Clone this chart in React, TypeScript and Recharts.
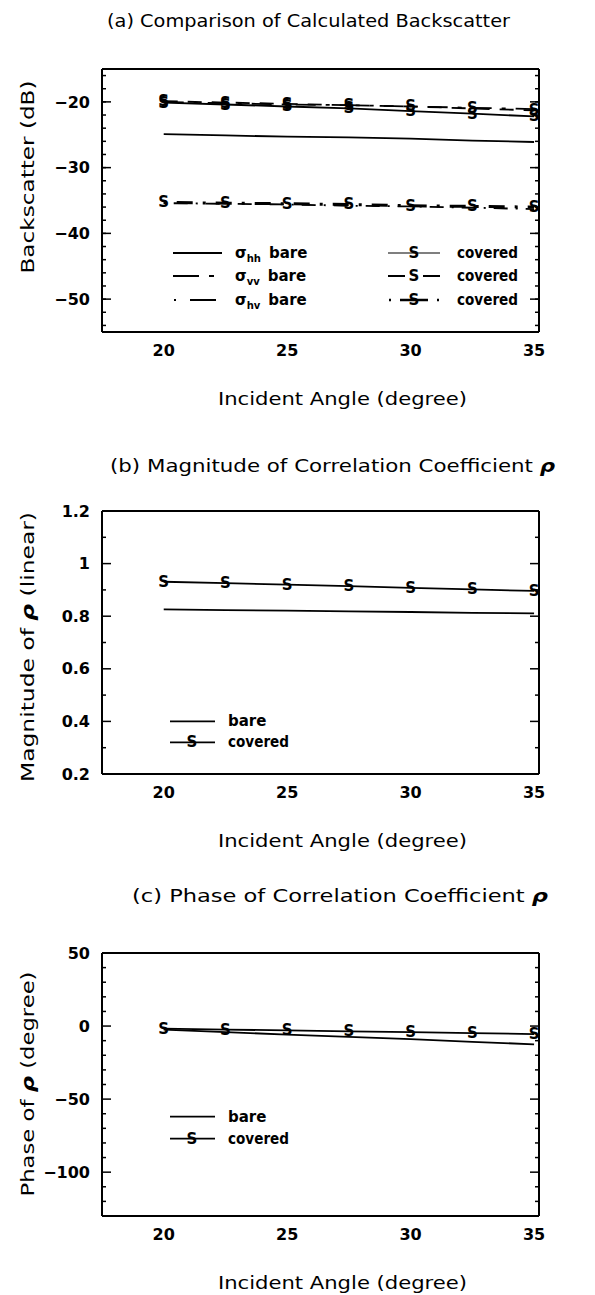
import React from 'react';
import { Line, LineChart, XAxis, YAxis } from 'recharts';

const angles = [20, 22.5, 25, 27.5, 30, 32.5, 35];

// (a) backscatter in dB
const hhBare = [-24.9, -25.1, -25.3, -25.4, -25.6, -25.9, -26.1];
const vvBare = [-20.0, -20.2, -20.4, -20.5, -20.7, -20.9, -21.1];
const hvBare = [-35.4, -35.5, -35.6, -35.8, -35.9, -36.1, -36.3];
const hhCovered = [-20.1, -20.4, -20.7, -21.0, -21.4, -21.8, -22.2];
const vvCovered = [-19.9, -20.1, -20.3, -20.5, -20.7, -21.0, -21.3];
const hvCovered = [-35.3, -35.4, -35.5, -35.6, -35.8, -35.9, -36.0];

// (b) magnitude of rho
const magBare = [0.826, 0.823, 0.821, 0.818, 0.816, 0.813, 0.811];
const magCovered = [0.931, 0.926, 0.92, 0.914, 0.908, 0.902, 0.896];

// (c) phase of rho, degree
const phaseBare = [-2.5, -4.2, -5.8, -7.4, -9.0, -10.8, -12.5];
const phaseCovered = [-1.8, -2.4, -3.0, -3.6, -4.2, -4.8, -5.5];

const xMajor = [20, 25, 30, 35];
const xMinor = [18, 19, 20, 21, 22, 23, 24, 25, 26, 27, 28, 29, 30, 31, 32, 33, 34, 35];
const aMajor = [-50, -40, -30, -20];
const aMinor = [-54, -52, -50, -48, -46, -44, -42, -40, -38, -36, -34, -32, -30, -28, -26, -24, -22, -20, -18, -16];
const bMajor = [0.2, 0.4, 0.6, 0.8, 1, 1.2];
const bMinor = [0.3, 0.5, 0.7, 0.9, 1.1];
const cMajor = [-100, -50, 0, 50];
const cMinor = [-120, -110, -90, -80, -70, -60, -40, -30, -20, -10, 10, 20, 30, 40];

const FONT = '"DejaVu Sans", sans-serif';
const W = 595;
const H = 442;
const TOP = 69;
const PLOT_H = 263;
const xDomain: [number, number] = [17.5, 35.2];

const S = (size: number) => (p: any) => {
  if (p.cx == null || p.cy == null) return <g key={`s-${p.index}`} />;
  return (
    <text
      key={`s-${p.dataKey}-${p.index}`}
      x={p.cx}
      y={p.cy}
      textAnchor="middle"
      dominantBaseline="central"
      fontSize={size}
      fontWeight="bold"
      fontFamily={FONT}
      fill="#000"
    >
      S
    </text>
  );
};

const noTick = () => <g />;

type Series = { key: string; values: number[]; dash?: string; width?: number; marker?: boolean };

const minus = (v: number) => String(v).replace('-', '\u2212');

type PanelProps = {
  series: Series[];
  yDomain: [number, number];
  yMajor: number[];
  yMinor: number[];
  title: React.ReactNode;
  titleX: number;
  titleY: number;
  titleLen: number;
  yLabel: React.ReactNode;
  yLabelY: number;
  yLabelLen: number;
  legend: React.ReactNode;
};

const tickStyle = { fill: '#000', fontSize: 16, fontWeight: 'bold', fontFamily: FONT };
const border = { stroke: '#000', strokeWidth: 2 };
const tl = { stroke: '#000', strokeWidth: 1.5 };

const Panel = (props: PanelProps) => {
  const { series, yDomain, yMajor, yMinor, title, titleX, titleY, titleLen, yLabel, yLabelY, yLabelLen, legend } = props;
  const data = angles.map((a, i) => {
    const row: any = { angle: a };
    series.forEach((s) => (row[s.key] = s.values[i]));
    return row;
  });
  return (
    <div style={{ position: 'relative', width: W, height: H }}>
      <LineChart width={W} height={H} data={data} margin={{ top: TOP, right: 56, left: 52, bottom: 80 }}>
        <XAxis xAxisId="x" dataKey="angle" type="number" domain={xDomain} ticks={xMajor} allowDataOverflow interval={0}
          tickLine={false} axisLine={border} tick={tickStyle} tickSize={2} tickMargin={11} height={30} />
        <XAxis xAxisId="b1" type="number" domain={xDomain} ticks={xMinor} allowDataOverflow mirror height={1} interval={0}
          tick={noTick} tickSize={4} axisLine={false} tickLine={tl} />
        <XAxis xAxisId="b2" type="number" domain={xDomain} ticks={xMajor} allowDataOverflow mirror height={1} interval={0}
          tick={noTick} tickSize={8} axisLine={false} tickLine={tl} />
        <XAxis xAxisId="t1" orientation="top" type="number" domain={xDomain} ticks={xMinor} allowDataOverflow mirror
          height={1} interval={0} tick={noTick} tickSize={4} axisLine={border} tickLine={tl} />
        <XAxis xAxisId="t2" orientation="top" type="number" domain={xDomain} ticks={xMajor} allowDataOverflow mirror
          height={1} interval={0} tick={noTick} tickSize={8} axisLine={false} tickLine={tl} />
        <YAxis yAxisId="y" type="number" domain={yDomain} ticks={yMajor} allowDataOverflow width={50} interval={0}
          tickLine={false} axisLine={border} tick={tickStyle} tickSize={4} tickMargin={8} tickFormatter={minus} />
        <YAxis yAxisId="l1" type="number" domain={yDomain} ticks={yMinor} allowDataOverflow mirror width={1} interval={0}
          tick={noTick} tickSize={4} axisLine={false} tickLine={tl} />
        <YAxis yAxisId="l2" type="number" domain={yDomain} ticks={yMajor} allowDataOverflow mirror width={1} interval={0}
          tick={noTick} tickSize={8} axisLine={false} tickLine={tl} />
        <YAxis yAxisId="r1" orientation="right" type="number" domain={yDomain} ticks={yMinor} allowDataOverflow mirror
          width={1} interval={0} tick={noTick} tickSize={4} axisLine={border} tickLine={tl} />
        <YAxis yAxisId="r2" orientation="right" type="number" domain={yDomain} ticks={yMajor} allowDataOverflow mirror
          width={1} interval={0} tick={noTick} tickSize={8} axisLine={false} tickLine={tl} />
        {series.map((s) => (
          <Line
            key={s.key}
            xAxisId="x"
            yAxisId="y"
            dataKey={s.key}
            type="linear"
            stroke="#000"
            strokeWidth={s.width || 1.8}
            strokeDasharray={s.dash}
            dot={s.marker ? S(15) : false}
            activeDot={false}
            isAnimationActive={false}
          />
        ))}
      </LineChart>
      <svg width={W} height={H} style={{ position: 'absolute', left: 0, top: 0, overflow: 'visible', pointerEvents: 'none' }}
        fontFamily={FONT}>
        <text x={titleX} y={titleY} dominantBaseline="central" fontSize={18} fill="#000"
          textLength={titleLen} lengthAdjust="spacingAndGlyphs">{title}</text>
        <text x={218} y={398} dominantBaseline="central" fontSize={18} fill="#000"
          textLength={249} lengthAdjust="spacingAndGlyphs">
          Incident Angle (degree)
        </text>
        <text transform={`translate(27, ${yLabelY}) rotate(-90)`} textAnchor="middle"
          dominantBaseline="central" fontSize={18} fill="#000" textLength={yLabelLen}
          lengthAdjust="spacingAndGlyphs">{yLabel}</text>
        {legend}
      </svg>
    </div>
  );
};

const py = (v: number, d: [number, number]) => TOP + ((d[1] - v) / (d[1] - d[0])) * PLOT_H;

const SMark = ({ x, y }: { x: number; y: number }) => (
  <text x={x} y={y} textAnchor="middle" dominantBaseline="central" fontSize={15} fontWeight="bold" fill="#000">S</text>
);

const Sigma = ({ x, y, sub }: { x: number; y: number; sub: string }) => (
  <text x={x} y={y} dominantBaseline="central" fontSize={15} fill="#000">
    <tspan fontWeight="bold">σ</tspan>
    <tspan fontSize={10} fontWeight="bold" dy={5}>{sub}</tspan>
    <tspan dy={-5} dx={8} fontWeight="bold">bare</tspan>
  </text>
);

const Covered = ({ x, y }: { x: number; y: number }) => (
  <text x={x} y={y} dominantBaseline="central" fontSize={15} fontWeight="bold" fill="#000"
    textLength={61} lengthAdjust="spacingAndGlyphs">covered</text>
);

const aDomain: [number, number] = [-55, -15];
const bDomain: [number, number] = [0.2, 1.2];
const cDomain: [number, number] = [-130, 50];

const legendA = (
  <g stroke="#000" strokeWidth={1.8}>
    <line x1={173} x2={222} y1={253} y2={253} />
    <line x1={173} x2={222} y1={276} y2={276} strokeDasharray="26 10 5 20" />
    <line x1={174} x2={222} y1={300} y2={300} strokeDasharray="2 14 26 20" />
    <g stroke="none">
      <Sigma x={235} y={253} sub="hh" />
      <Sigma x={235} y={276} sub="vv" />
      <Sigma x={235} y={300} sub="hv" />
    </g>
    <line x1={388} x2={440} y1={253} y2={253} strokeWidth={1.2} />
    <line x1={388} x2={440} y1={276} y2={276} strokeDasharray="17 18 17" />
    <line x1={389} x2={440} y1={300} y2={300} strokeDasharray="2 9 28 9 2" strokeWidth={2.4} />
    <g stroke="none">
      <SMark x={414} y={253} />
      <SMark x={414} y={276} />
      <SMark x={414} y={300} />
      <Covered x={457} y={253} />
      <Covered x={457} y={276} />
      <Covered x={457} y={300} />
    </g>
  </g>
);

const twoLegend = (d: [number, number], v1: number, v2: number) => {
  const y1 = py(v1, d);
  const y2 = py(v2, d);
  return (
    <g stroke="#000" strokeWidth={1.8}>
      <line x1={170} x2={215} y1={y1} y2={y1} />
      <line x1={170} x2={215} y1={y2} y2={y2} />
      <g stroke="none">
        <SMark x={192} y={y2} />
        <text x={228} y={y1} dominantBaseline="central" fontSize={15} fontWeight="bold" fill="#000">bare</text>
        <Covered x={228} y={y2} />
      </g>
    </g>
  );
};

const rho = <tspan fontStyle="italic" fontWeight="bold">ρ</tspan>;

export default function App() {
  return (
    <div style={{ position: 'absolute', left: 0, top: 0, width: 595, height: 1295, background: '#fff' }}>
      <Panel
        series={[
          { key: 'hhBare', values: hhBare },
          { key: 'vvBare', values: vvBare, dash: '20 10 4 10' },
          { key: 'hvBare', values: hvBare, dash: '2 8 14 8' },
          { key: 'hhCovered', values: hhCovered, marker: true },
          { key: 'vvCovered', values: vvCovered, dash: '14 10', marker: true },
          { key: 'hvCovered', values: hvCovered, dash: '3 10 16 10', width: 3, marker: true },
        ]}
        yDomain={aDomain}
        yMajor={aMajor}
        yMinor={aMinor}
        title="(a) Comparison of Calculated Backscatter"
        titleX={107}
        titleY={20}
        titleLen={403}
        yLabel="Backscatter (dB)"
        yLabelY={177}
        yLabelLen={193}
        legend={legendA}
      />
      <Panel
        series={[
          { key: 'magBare', values: magBare },
          { key: 'magCovered', values: magCovered, marker: true },
        ]}
        yDomain={bDomain}
        yMajor={bMajor}
        yMinor={bMinor}
        title={<>(b) Magnitude of Correlation Coefficient {rho}</>}
        titleX={110}
        titleY={23}
        titleLen={445}
        yLabel={<>Magnitude of {rho} (linear)</>}
        yLabelY={205}
        yLabelLen={270}
        legend={twoLegend(bDomain, 0.4, 0.32)}
      />
      <Panel
        series={[
          { key: 'phaseBare', values: phaseBare },
          { key: 'phaseCovered', values: phaseCovered, marker: true },
        ]}
        yDomain={cDomain}
        yMajor={cMajor}
        yMinor={cMinor}
        title={<>(c) Phase of Correlation Coefficient {rho}</>}
        titleX={132}
        titleY={11}
        titleLen={416}
        yLabel={<>Phase of {rho} (degree)</>}
        yLabelY={200}
        yLabelLen={225}
        legend={twoLegend(cDomain, -62, -77)}
      />
    </div>
  );
}
